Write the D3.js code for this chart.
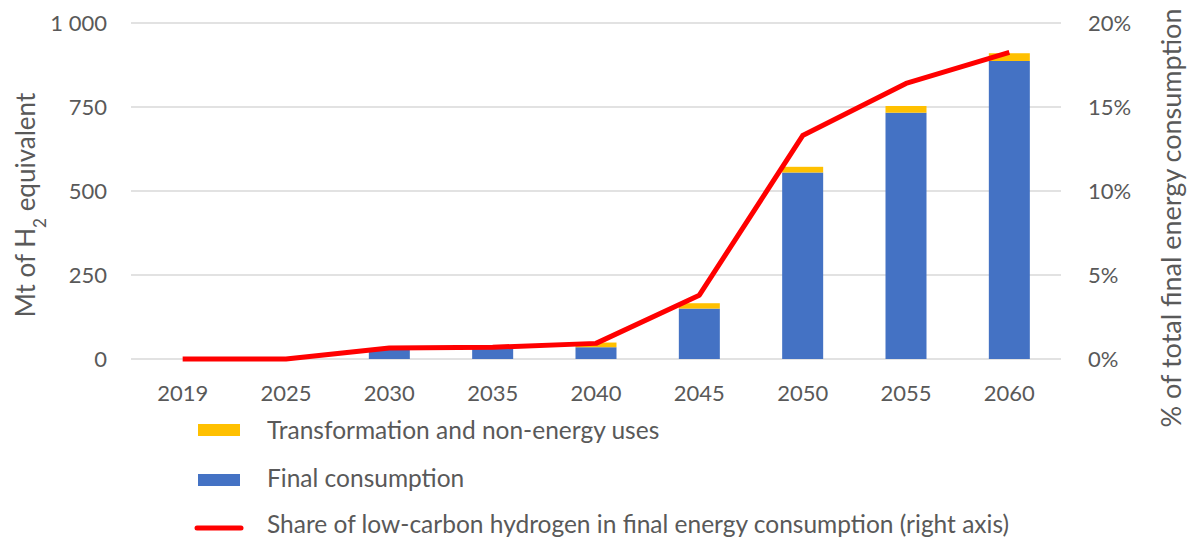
<!DOCTYPE html>
<html>
<head>
<meta charset="utf-8">
<script src="https://cdn.jsdelivr.net/npm/d3@7.9.0/dist/d3.min.js"></script>
<style>
  body { margin: 0; background: #fff; }
  svg text { font-family: Lato, "Noto Sans", sans-serif; fill: #595959; }
</style>
</head>
<body>
<svg id="chart" width="1192" height="540"></svg>
<script>
const years = ['2019', '2025', '2030', '2035', '2040', '2045', '2050', '2055', '2060'];
const finalConsumption = [0, 0, 27, 30, 35, 150, 555, 733, 887];
const transformation = [0, 0, 3, 1, 14, 16, 17, 20, 23];
const shareLowCarbon = [0, 0, 0.65, 0.7, 0.93, 3.8, 13.3, 16.4, 18.25];
const leftTicks = [0, 250, 500, 750, 1000];
const rightTicks = [0, 5, 10, 15, 20];

const svg = d3.select('#chart');
const margin = { left: 131, right: 1061, top: 23, bottom: 359 };

const x = d3.scaleBand().domain(years).range([margin.left, margin.right]);
const yL = d3.scaleLinear().domain([0, 1000]).range([margin.bottom, margin.top]);
const yR = d3.scaleLinear().domain([0, 20]).range([margin.bottom, margin.top]);

// gridlines
svg.append('g')
    .selectAll('line')
    .data(leftTicks)
    .join('line')
    .attr('x1', margin.left).attr('x2', margin.right)
    .attr('y1', d => yL(d)).attr('y2', d => yL(d))
    .attr('stroke', '#d9d9d9').attr('stroke-width', 1.5);

// left axis labels
svg.append('g')
    .selectAll('text')
    .data(leftTicks)
    .join('text')
    .attr('x', 107).attr('y', d => yL(d))
    .attr('dy', '0.35em')
    .attr('text-anchor', 'end')
    .style('font-size', '22px')
    .text(d => d3.format(',')(d).replace(',', ' '));

// right axis labels
svg.append('g')
    .selectAll('text')
    .data(rightTicks)
    .join('text')
    .attr('x', 1088).attr('y', d => yR(d))
    .attr('dy', '0.35em')
    .style('font-size', '22px')
    .text(d => d + '%');

// category labels
svg.append('g')
    .selectAll('text')
    .data(years)
    .join('text')
    .attr('x', d => x(d) + x.bandwidth() / 2).attr('y', 393)
    .attr('dy', '0.35em')
    .attr('text-anchor', 'middle')
    .style('font-size', '22px')
    .text(d => d);

// stacked bars
const barW = 41;
const rows = years.map((yr, i) => ({ year: yr, fin: finalConsumption[i], tr: transformation[i] }));
const bars = svg.append('g');
bars.selectAll('rect.fin')
    .data(rows)
    .join('rect')
    .attr('class', 'fin')
    .attr('x', d => x(d.year) + (x.bandwidth() - barW) / 2)
    .attr('width', barW)
    .attr('y', d => yL(d.fin))
    .attr('height', d => yL(0) - yL(d.fin))
    .attr('fill', '#4472c4');
bars.selectAll('rect.tr')
    .data(rows)
    .join('rect')
    .attr('class', 'tr')
    .attr('x', d => x(d.year) + (x.bandwidth() - barW) / 2)
    .attr('width', barW)
    .attr('y', d => yL(d.fin + d.tr))
    .attr('height', d => yL(d.fin) - yL(d.fin + d.tr))
    .attr('fill', '#ffc000');

// share line
const line = d3.line()
    .x((d, i) => x(years[i]) + x.bandwidth() / 2)
    .y(d => yR(d));
svg.append('path')
    .datum(shareLowCarbon)
    .attr('d', line)
    .attr('fill', 'none')
    .attr('stroke', '#ff0000')
    .attr('stroke-width', 5)
    .attr('stroke-linejoin', 'round');

// axis titles
const lt = svg.append('text')
    .attr('transform', 'translate(35,205) rotate(-90)')
    .attr('text-anchor', 'middle')
    .style('font-size', '26px');
lt.append('tspan').text('Mt of H');
lt.append('tspan').attr('baseline-shift', 'sub').style('font-size', '17px').text('2');
lt.append('tspan').text(' equivalent');

svg.append('text')
    .attr('transform', 'translate(1181,218) rotate(-90)')
    .attr('text-anchor', 'middle')
    .style('font-size', '27px')
    .text('% of total final energy consumption');

// legend
const legend = svg.append('g');
legend.append('rect').attr('x', 198).attr('y', 424).attr('width', 42).attr('height', 12).attr('fill', '#ffc000');
legend.append('text').attr('x', 267).attr('y', 430).attr('dy', '0.35em').style('font-size', '24.5px')
    .text('Transformation and non-energy uses');
legend.append('rect').attr('x', 198).attr('y', 474).attr('width', 42).attr('height', 12).attr('fill', '#4472c4');
legend.append('text').attr('x', 267).attr('y', 478).attr('dy', '0.35em').style('font-size', '24.5px')
    .text('Final consumption');
legend.append('line').attr('x1', 197).attr('x2', 241).attr('y1', 528).attr('y2', 528)
    .attr('stroke', '#ff0000').attr('stroke-width', 5).attr('stroke-linecap', 'round');
legend.append('text').attr('x', 267).attr('y', 524).attr('dy', '0.35em').style('font-size', '24.5px')
    .text('Share of low-carbon hydrogen in final energy consumption (right axis)');
</script>
</body>
</html>
